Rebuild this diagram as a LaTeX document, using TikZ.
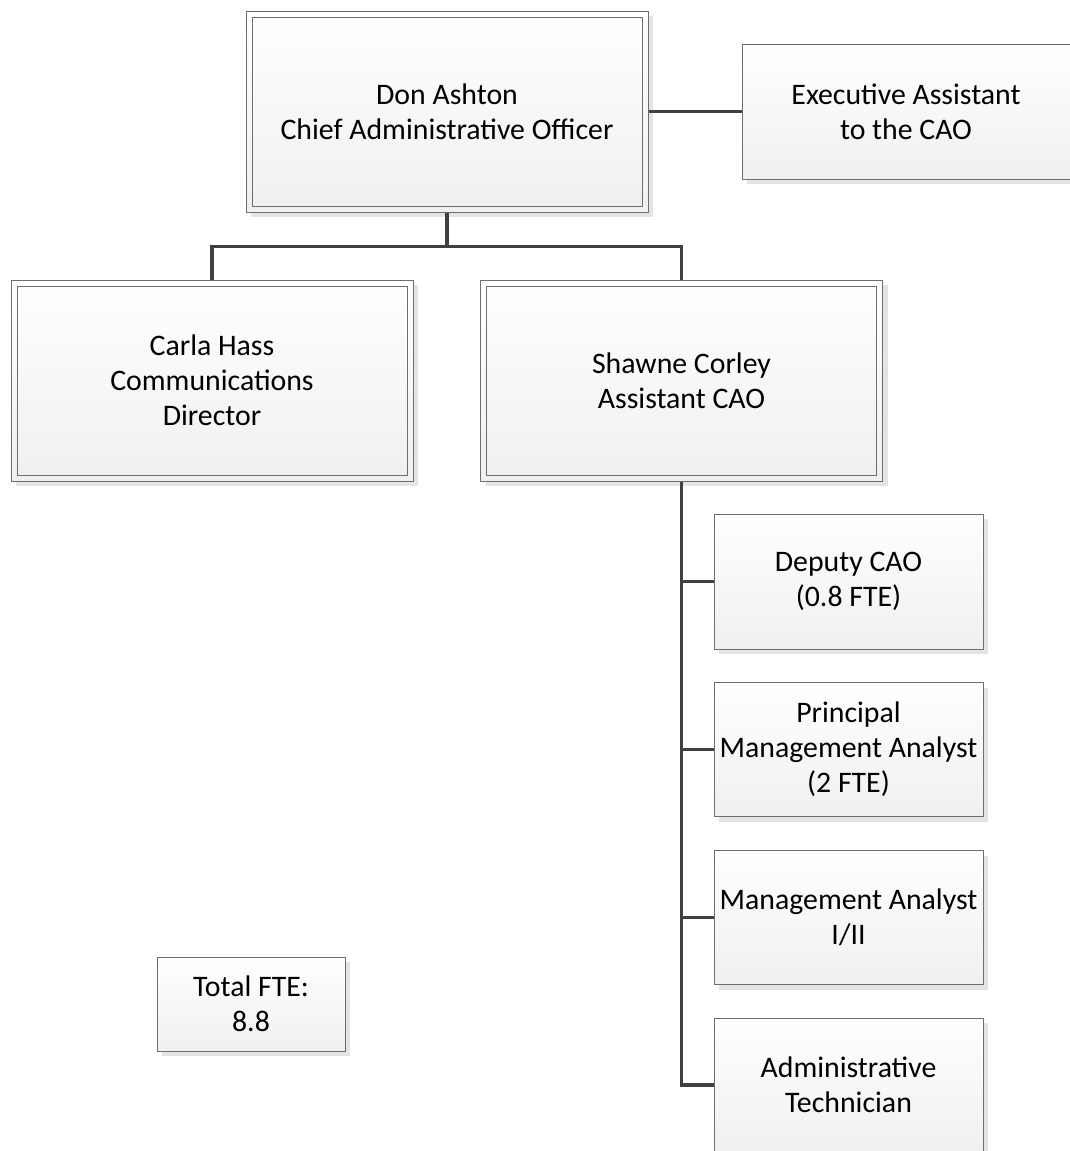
\documentclass[tikz,border=0pt]{standalone}
\usepackage{fontspec}
\setmainfont{Carlito}
\usetikzlibrary{shadows}
\definecolor{boxline}{HTML}{6E6E6E}
\definecolor{conn}{HTML}{404040}
\definecolor{shade}{HTML}{E4E4E4}
\tikzset{
  orgbox/.style={draw=boxline, line width=1pt, inner sep=0pt, align=center,
    top color=white, bottom color=black!6,
    font=\fontsize{29.8}{35}\selectfont,
    drop shadow={shadow xshift=5pt, shadow yshift=-5pt, fill=shade, opacity=1}},
  dblbox/.style={orgbox,
    path picture={\draw[boxline, line width=1pt]
      ([shift={(6pt,6pt)}]path picture bounding box.south west) rectangle
      ([shift={(-6pt,-6pt)}]path picture bounding box.north east);}},
  link/.style={draw=conn, line width=3.5pt}
}
\begin{document}
\begin{tikzpicture}[x=1pt,y=-1pt]
\useasboundingbox[fill=white] (0,0) rectangle (1069,1151);
\node[dblbox, minimum width=402pt, minimum height=201pt] (cao) at (447,111.5)
  {Don Ashton\\Chief Administrative Officer};
\node[orgbox, minimum width=328pt, minimum height=135pt] (exec) at (906,111.5)
  {Executive Assistant\\to the CAO};
\node[dblbox, minimum width=402pt, minimum height=201pt] (carla) at (212,380.5)
  {Carla Hass\\Communications\\Director};
\node[dblbox, minimum width=402pt, minimum height=201pt] (shawne) at (681.5,380.5)
  {Shawne Corley\\Assistant CAO};
\node[orgbox, minimum width=269pt, minimum height=135pt] (deputy) at (848.5,581.5)
  {Deputy CAO\\(0.8 FTE)};
\node[orgbox, minimum width=269pt, minimum height=134pt] (pma) at (848.5,749.5)
  {Principal\\Management Analyst\\(2 FTE)};
\node[orgbox, minimum width=269pt, minimum height=134pt] (ma) at (848.5,917.5)
  {Management Analyst\\I/II};
\node[orgbox, minimum width=269pt, minimum height=134pt] (tech) at (848.5,1085)
  {Administrative\\Technician};
\node[orgbox, minimum width=188pt, minimum height=94pt] (total) at (251,1004)
  {Total FTE:\\8.8};
\draw[link] (cao.east) -- (exec.west);
\draw[link] (cao.south) -- ++(0,34) coordinate (j) -| (carla.north);
\draw[link] (j) -| (shawne.north);
\draw[link] (shawne.south) |- (deputy.west);
\draw[link] (shawne.south) |- (pma.west);
\draw[link] (shawne.south) |- (ma.west);
\draw[link] (shawne.south) |- (tech.west);
\end{tikzpicture}
\end{document}
